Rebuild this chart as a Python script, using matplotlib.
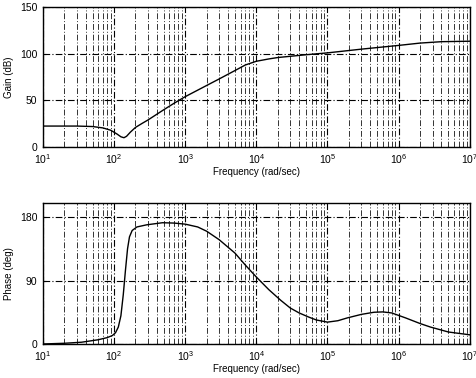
import matplotlib
matplotlib.use('Agg')
import matplotlib.pyplot as plt
from matplotlib.ticker import LogLocator, FixedLocator

# Gain curve (rad/sec, dB)
gain_freq = [10, 30, 50, 70, 90, 110, 125, 138, 150, 170, 200, 250, 300,
             500, 700, 1000, 2000, 3000, 5000, 7000, 10000, 15000, 20000,
             50000, 1e5, 3e5, 1e6, 2e6, 4e6, 1e7]
gain_db = [22.5, 22.5, 22, 20.5, 18, 14, 11, 10, 11.5, 16, 21, 25.5, 29,
           40, 47, 54, 66, 73, 82, 88, 92, 94.5, 96,
           99, 101, 105, 109, 111.5, 113, 113.5]

# Phase curve (rad/sec, deg)
phase_freq = [10, 20, 35, 60, 80, 95, 105, 115, 125, 135, 145, 155, 165,
              180, 210, 287, 480, 700, 1000, 1500, 2000, 3000, 5000, 7000,
              10000, 15000, 22000, 30000, 40000, 55000, 70000, 1e5, 1.4e5,
              1.9e5, 3e5, 4.5e5, 6e5, 8e5, 1.25e6, 2e6, 2.8e6, 5e6, 1e7]
phase_deg = [0, 1, 2.5, 6, 9, 12, 16, 24, 40, 70, 105, 135, 152,
             161, 166, 169, 172, 171.5, 170, 166, 160, 148, 129, 112,
             95, 77, 62, 51, 44, 38, 34, 31, 33,
             37, 42, 45, 45.5, 44, 37, 29, 24, 17, 13]

gain_ticks = [0, 50, 100, 150]
phase_ticks = [0, 90, 180]

plt.rcParams['font.family'] = ['Liberation Sans', 'DejaVu Sans']

fig = plt.figure(figsize=(4.76, 3.78), dpi=100)
ax1 = fig.add_axes([0.090, 0.611, 0.897, 0.370])
ax2 = fig.add_axes([0.090, 0.090, 0.897, 0.373])


def style_axis(ax, ticks, ylim, ylabel):
    ax.set_xscale('log')
    ax.set_xlim(10, 1e7)
    ax.set_ylim(*ylim)
    ax.yaxis.set_major_locator(FixedLocator(ticks))
    ax.xaxis.set_major_locator(LogLocator(base=10, numticks=10))
    ax.xaxis.set_minor_locator(LogLocator(base=10, subs=range(2, 10), numticks=100))
    ax.grid(True, which='major', axis='both', color='black',
            linestyle=(0, (6, 2, 1, 2)), linewidth=0.8)
    ax.grid(True, which='minor', axis='x', color='#333333',
            linestyle=(0, (6, 2, 1, 2)), linewidth=0.7)
    ax.tick_params(which='both', direction='in', labelsize=7.5, length=2, pad=4)
    ax.tick_params(which='minor', length=0)
    ax.set_xlabel('Frequency (rad/sec)', fontsize=7)
    ax.xaxis.set_label_coords(0.5, -0.14)
    ax.set_ylabel(ylabel, fontsize=7)
    ax.yaxis.set_label_coords(-0.068, 0.5)
    for s in ax.spines.values():
        s.set_linewidth(1.0)


ax1.plot(gain_freq, gain_db, color='black', linewidth=1.0)
style_axis(ax1, gain_ticks, (0, 150), 'Gain (dB)')

ax2.plot(phase_freq, phase_deg, color='black', linewidth=1.0)
style_axis(ax2, phase_ticks, (0, 200), 'Phase (deg)')

fig.savefig('out.png', dpi=100)
